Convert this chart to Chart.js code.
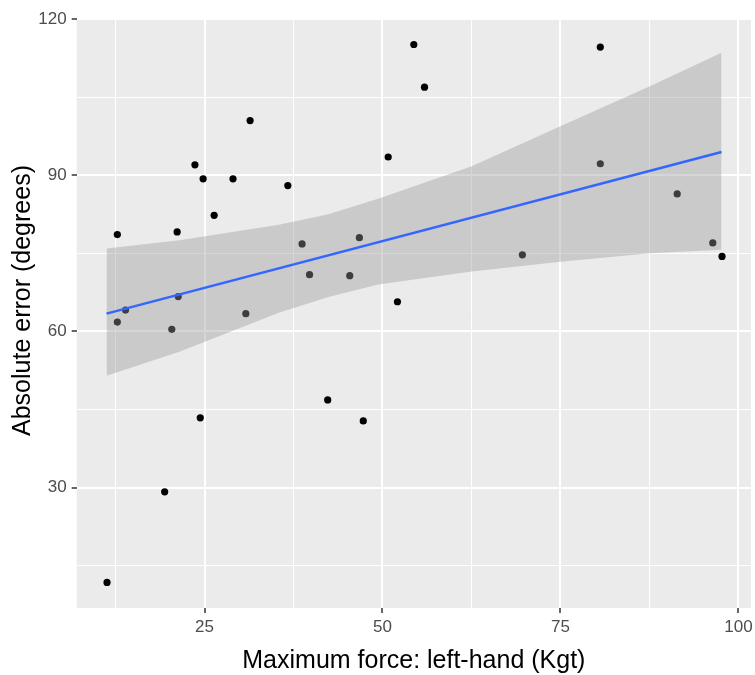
<!DOCTYPE html>
<html>
<head>
<meta charset="utf-8">
<script src="https://cdn.jsdelivr.net/npm/chart.js@4.4.1/dist/chart.umd.min.js"></script>
<style>
  html, body { margin: 0; padding: 0; background: #fff; }
  canvas { display: block; }
</style>
</head>
<body>
<canvas id="grafico" width="755" height="675"></canvas>
<script>
// força máxima da mão esquerda (Kgt) e erro absoluto (graus) de cada sujeito
const forcaEsq = [11.3, 12.75, 12.75, 13.9, 19.4, 20.4, 21.15, 21.3, 23.65, 24.4, 24.8,
  26.35, 29.0, 30.8, 31.4, 36.7, 38.7, 39.75, 42.3, 45.4, 46.75, 47.3, 50.8, 52.1,
  54.4, 55.9, 69.65, 80.6, 80.6, 91.4, 96.4, 97.7];
const erroAbs = [11.8, 78.6, 61.8, 64.1, 29.2, 60.4, 79.1, 66.7, 92.0, 43.4, 89.3,
  82.3, 89.3, 63.4, 100.5, 88.0, 76.8, 70.9, 46.85, 70.7, 78.0, 42.8, 93.5, 65.7,
  115.1, 106.9, 74.7, 114.6, 92.2, 86.4, 77.0, 74.4];

// reta ajustada (lm) e faixa de confiança
const retaX = [11.23, 97.63];
const retaY = [63.4, 94.45];
const faixaX = [11.23, 21.47, 35.43, 42.41, 49.39, 62.53, 75.0, 87.57, 97.63];
const faixaSup = [75.9, 77.5, 80.5, 82.5, 85.5, 91.7, 99.4, 107.1, 113.5];
const faixaInf = [51.5, 56.1, 63.6, 66.6, 69.0, 71.5, 73.4, 75.0, 75.7];

// marcas dos eixos (principais com rótulo, secundárias só com grade)
const ticksX = [12.5, 25, 37.5, 50, 62.5, 75, 87.5, 100];
const rotulosX = [25, 50, 75, 100];
const ticksY = [15, 30, 45, 60, 75, 90, 105, 120];
const rotulosY = [30, 60, 90, 120];

const tituloY = 'Absolute error (degrees)';

const pares = (xs, ys) => xs.map((x, i) => ({ x: x, y: ys[i] }));

const fundoPainel = {
  id: 'fundoPainel',
  beforeDraw(chart) {
    const a = chart.chartArea;
    const c = chart.ctx;
    c.save();
    c.fillStyle = '#EBEBEB';
    c.fillRect(a.left, a.top, a.right - a.left, a.bottom - a.top);
    c.restore();
  },
  // título do eixo y, um pouco acima do centro do painel
  afterDraw(chart) {
    const a = chart.chartArea;
    const c = chart.ctx;
    c.save();
    c.translate(23, (a.top + a.bottom) / 2 - 13);
    c.rotate(-Math.PI / 2);
    c.font = '25px "Liberation Sans"';
    c.fillStyle = '#000000';
    c.textAlign = 'center';
    c.textBaseline = 'middle';
    c.fillText(tituloY, 0, 0);
    c.restore();
  }
};

function grade(principais) {
  return {
    color: '#FFFFFF',
    lineWidth: ctx => (ctx.tick && principais.includes(ctx.tick.value)) ? 2 : 1,
    tickColor: ctx => (ctx.tick && principais.includes(ctx.tick.value)) ? '#333333' : 'rgba(0,0,0,0)',
    tickLength: 5,
    tickWidth: 1.5,
    drawTicks: true
  };
}

const ctx = document.getElementById('grafico').getContext('2d');
new Chart(ctx, {
  type: 'scatter',
  data: {
    datasets: [
      {
        label: 'pontos',
        data: pares(forcaEsq, erroAbs),
        pointRadius: 3.6,
        pointBackgroundColor: '#000000',
        pointBorderWidth: 0,
        showLine: false,
        order: 3
      },
      {
        label: 'sup',
        data: pares(faixaX, faixaSup),
        showLine: true,
        tension: 0,
        borderWidth: 0,
        borderColor: 'rgba(0,0,0,0)',
        pointRadius: 0,
        fill: '+1',
        backgroundColor: 'rgba(153,153,153,0.4)',
        order: 2
      },
      {
        label: 'inf',
        data: pares(faixaX, faixaInf),
        showLine: true,
        tension: 0,
        borderWidth: 0,
        borderColor: 'rgba(0,0,0,0)',
        pointRadius: 0,
        fill: false,
        order: 2
      },
      {
        label: 'reta',
        data: pares(retaX, retaY),
        showLine: true,
        borderColor: '#3366FF',
        borderWidth: 2.4,
        pointRadius: 0,
        fill: false,
        order: 1
      }
    ]
  },
  options: {
    responsive: false,
    animation: false,
    events: [],
    layout: { padding: { top: 19, left: 0, right: 0, bottom: 0 } },
    plugins: {
      legend: { display: false },
      tooltip: { enabled: false }
    },
    scales: {
      x: {
        type: 'linear',
        min: 7.04,
        max: 101.77,
        afterBuildTicks: s => { s.ticks = ticksX.map(v => ({ value: v })); },
        afterFit: s => { s.height = 67; s.paddingLeft = 0; s.paddingRight = 0; },
        grid: grade(rotulosX),
        border: { display: false },
        ticks: {
          autoSkip: false,
          maxRotation: 0,
          padding: 4,
          color: '#4D4D4D',
          font: { family: 'Liberation Sans', size: 17 },
          callback: v => rotulosX.includes(v) ? String(v) : ''
        },
        title: {
          display: true,
          text: 'Maximum force: left-hand (Kgt)',
          color: '#000000',
          font: { family: 'Liberation Sans', size: 25, lineHeight: 1 },
          padding: { top: 0, bottom: 1 }
        }
      },
      y: {
        type: 'linear',
        min: 6.88,
        max: 120.0,
        afterBuildTicks: s => { s.ticks = ticksY.map(v => ({ value: v })); },
        afterFit: s => { s.width = 76.7; s.paddingTop = 0; s.paddingBottom = 0; },
        grid: grade(rotulosY),
        border: { display: false },
        ticks: {
          autoSkip: false,
          padding: 5,
          color: '#4D4D4D',
          font: { family: 'Liberation Sans', size: 17 },
          callback: v => rotulosY.includes(v) ? String(v) : ''
        }
      }
    }
  },
  plugins: [fundoPainel]
});
</script>
</body>
</html>
